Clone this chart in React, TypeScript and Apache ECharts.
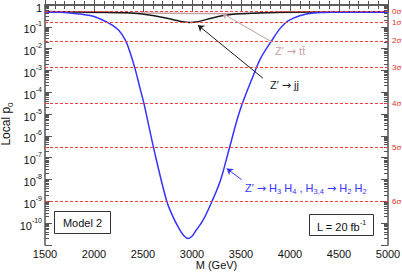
import React, { useEffect, useRef } from "react";
import * as echarts from "echarts";

// ---- data ----
const massBlue = [1500, 1700, 1900, 2000, 2060, 2160, 2250, 2320, 2370, 2420, 2470, 2510, 2610, 2740, 2810, 2880, 2920, 2960, 3000, 3040, 3110, 3200, 3290, 3380, 3490, 3640, 3700, 3810, 3900, 3980, 4100, 4240, 4440, 5000];
const pBlue = [0.48, 0.457, 0.36, 0.3, 0.234, 0.141, 0.0708, 0.0245, 6.3e-3, 1.15e-3, 1.5e-4, 3.0e-5, 2.6e-7, 1.1e-9, 1.8e-10, 4.6e-11, 2.6e-11, 2.0e-11, 2.5e-11, 4.6e-11, 1.3e-10, 9.1e-10, 9.1e-9, 2.6e-7, 1.5e-5, 8.5e-4, 3.6e-3, 0.022, 0.085, 0.186, 0.32, 0.43, 0.47, 0.47];

const massJJ = [1500, 2000, 2400, 2600, 2810, 2900, 2980, 3060, 3150, 3320, 3500, 3900, 5000];
const pJJ = [0.5, 0.468, 0.42, 0.33, 0.213, 0.172, 0.158, 0.172, 0.219, 0.331, 0.398, 0.468, 0.49];

const massTT = [1500, 2500, 3000, 3400, 3700, 4200, 5000];
const pTT = [0.47, 0.43, 0.41, 0.4, 0.43, 0.46, 0.47];

const sigmaNames = ["0σ", "1σ", "2σ", "3σ", "4σ", "5σ", "6σ"];
const sigmaP = [0.5, 0.158655, 0.0227501, 0.0013499, 3.16712e-5, 2.86652e-7, 9.86588e-10];

const xMin = 1500;
const xMax = 5000;
const xStep = 500;
const yMinExp = -11;
const yMaxExp = 0;

// annotation arrows: [fromMass, fromP, toMass, toP]
const arrowJJ = [3724, 4.4e-4, 3061, 0.119];
const arrowTT = [3816, 0.02, 3306, 0.425];
const arrowH = [3507, 9.8e-9, 3354, 3.2e-8];

const FONT = '"Liberation Sans", Arial, Helvetica, sans-serif';
const AFONT = '"DejaVu Sans", sans-serif';
const lg = (v: number) => Math.log10(v);

const minorLogTicks: number[] = [];
for (let n = yMinExp; n < yMaxExp; n++) {
  for (let k = 2; k <= 9; k++) minorLogTicks.push(n + Math.log10(k));
}

const axisColor = "#555";
const sigmaColor = "#ff4040";

export default function App() {
  const ref = useRef<HTMLDivElement>(null);
  useEffect(() => {
    if (!ref.current) return;
    const chart = echarts.init(ref.current, null, { renderer: "svg" });
    const toPairs = (m: number[], p: number[]) => m.map((x, i) => [x, lg(p[i])]);

    const xCommon = {
      type: "value",
      min: xMin,
      max: xMax,
      interval: xStep,
      axisLine: { show: true, lineStyle: { color: axisColor, width: 1.5 } },
      axisTick: { show: true, inside: true, length: 7, lineStyle: { color: axisColor, width: 1 } },
      minorTick: { show: true, splitNumber: 5, length: 4, lineStyle: { color: axisColor, width: 1 } },
      splitLine: { show: false },
      minorSplitLine: { show: false },
    };
    const yCommon = {
      type: "value",
      min: yMinExp,
      max: yMaxExp,
      interval: 1,
      splitLine: { show: false },
    };
    const annRich = (color: string, size = 11) => ({
      m: { fontSize: size, lineHeight: 13, padding: [0, 0, 2, 0], fontFamily: FONT, fill: color },
      a: { fontSize: size, lineHeight: 13, padding: [0, 0, 2, 0], fontFamily: AFONT, fill: color },
      d: { fontSize: 7.5, lineHeight: 8, verticalAlign: "bottom", fontFamily: FONT, fill: color },
    });

    const option: any = {
      animation: false,
      backgroundColor: "#fff",
      grid: { left: 45, right: 14, top: 5, bottom: 28, containLabel: false, outerBoundsMode: "none" },
      xAxis: [
        {
          ...xCommon,
          position: "bottom",
          axisLabel: { fontSize: 11, color: "#111", margin: 3, fontFamily: FONT, formatter: (v: number) => String(v) },
        },
        { ...xCommon, position: "top", axisLabel: { show: false } },
      ],
      yAxis: [
        {
          ...yCommon,
          position: "left",
          axisLine: { show: true, lineStyle: { color: axisColor, width: 1.5 } },
          axisTick: { show: true, inside: true, length: 7, lineStyle: { color: axisColor } },
          axisLabel: {
            margin: 3,
            fontFamily: FONT,
            color: "#111",
            formatter: (v: number) => (v === 0 ? "{b|1}" : v === yMinExp ? "" : `{b|10}{s|${v}}`),
            rich: {
              b: { fontSize: 11, lineHeight: 13, padding: [5, 0, 0, 0], fontFamily: FONT, color: "#111" },
              s: { fontSize: 7, lineHeight: 8, verticalAlign: "top", fontFamily: FONT, color: "#111" },
            },
          },
        },
        {
          ...yCommon,
          position: "left",
          axisLine: { show: false },
          axisTick: { show: true, inside: true, length: 4, customValues: minorLogTicks, lineStyle: { color: axisColor } },
          axisLabel: { show: false },
        },
        {
          ...yCommon,
          position: "right",
          axisLine: { show: true, lineStyle: { color: axisColor, width: 1.5 } },
          axisTick: { show: true, inside: true, length: 7, lineStyle: { color: axisColor } },
          axisLabel: {
            show: true,
            margin: 4,
            customValues: sigmaP.map(lg),
            fontSize: 8,
            color: "#e0302a",
            fontFamily: FONT,
            formatter: (v: number) => {
              let best = 0;
              sigmaP.forEach((p, i) => {
                if (Math.abs(lg(p) - v) < Math.abs(lg(sigmaP[best]) - v)) best = i;
              });
              return sigmaNames[best];
            },
          },
        },
        {
          ...yCommon,
          position: "right",
          axisLine: { show: false },
          axisTick: { show: true, inside: true, length: 4, customValues: minorLogTicks, lineStyle: { color: axisColor } },
          axisLabel: { show: false },
        },
      ],
      series: [
        {
          name: "sigma",
          type: "line",
          data: [],
          z: 1,
          markLine: {
            silent: true,
            symbol: "none",
            label: { show: false },
            lineStyle: { color: sigmaColor, type: [3, 2], width: 1 },
            data: sigmaP.map((p) => ({ yAxis: lg(p), lineStyle: { color: sigmaColor, type: [3, 2], width: 1 } })),
          },
        },
        {
          name: "ttbar",
          type: "line",
          data: toPairs(massTT, pTT),
          showSymbol: false,
          smooth: 0.4,
          z: 2,
          lineStyle: { color: "#c4a2a2", width: 1.5 },
        },
        {
          name: "jj",
          type: "line",
          data: toPairs(massJJ, pJJ),
          showSymbol: false,
          smooth: 0.4,
          z: 3,
          lineStyle: { color: "#1a1a1a", width: 1.5 },
        },
        {
          name: "HH",
          type: "line",
          data: toPairs(massBlue, pBlue),
          showSymbol: false,
          smooth: 0.35,
          z: 4,
          lineStyle: { color: "#3434ff", width: 1.5 },
        },
        {
          name: "arrows",
          type: "line",
          data: [],
          z: 5,
          markLine: {
            silent: true,
            symbol: ["none", "arrow"],
            symbolSize: 6,
            label: { show: false },
            data: [
              [
                { coord: [arrowJJ[0], lg(arrowJJ[1])], lineStyle: { color: "#1a1a1a", width: 1, type: "solid" } },
                { coord: [arrowJJ[2], lg(arrowJJ[3])] },
              ],
              [
                { coord: [arrowTT[0], lg(arrowTT[1])], lineStyle: { color: "#c4a2a2", width: 1, type: "solid" } },
                { coord: [arrowTT[2], lg(arrowTT[3])] },
              ],
              [
                { coord: [arrowH[0], lg(arrowH[1])], lineStyle: { color: "#3434ff", width: 1, type: "solid" } },
                { coord: [arrowH[2], lg(arrowH[3])] },
              ],
            ],
          },
        },
      ],
      graphic: [
        {
          type: "text",
          x: 216.5,
          y: 265,
          style: { text: "M (GeV)", fontSize: 11, fontFamily: FONT, fill: "#111", align: "center", verticalAlign: "middle" },
        },
        {
          type: "text",
          x: 7,
          y: 124,
          rotation: Math.PI / 2,
          style: {
            text: "{m|Local p}{u|0}",
            align: "center",
            verticalAlign: "middle",
            rich: {
              m: { fontSize: 12, lineHeight: 14, padding: [0, 0, 3, 0], fontFamily: FONT, fill: "#111" },
              u: { fontSize: 8, lineHeight: 9, verticalAlign: "bottom", fontFamily: FONT, fill: "#111" },
            },
          },
        },
        {
          type: "text",
          x: 275,
          y: 52,
          style: { text: "{m|Z′ }{a|→}{m| tt̄}", verticalAlign: "middle", rich: annRich("#c4a2a2") },
        },
        {
          type: "text",
          x: 270,
          y: 86,
          style: { text: "{m|Z′ }{a|→}{m| jj}", verticalAlign: "middle", rich: annRich("#1a1a1a") },
        },
        {
          type: "text",
          x: 245,
          y: 189,
          style: {
            text: "{m|Z′ }{a|→}{m| H}{d|3}{m| H}{d|4}{m| , H}{d|3,4}{m| }{a|→}{m| H}{d|2}{m| H}{d|2}",
            verticalAlign: "middle",
            rich: annRich("#3434ff"),
          },
        },
        {
          type: "rect",
          shape: { x: 54.5, y: 211.5, width: 56, height: 22 },
          style: { fill: "#fff", stroke: "#333", lineWidth: 1 },
          z: 10,
        },
        {
          type: "text",
          x: 82.5,
          y: 222.5,
          z: 11,
          style: { text: "Model 2", fontSize: 11, fontFamily: FONT, fill: "#111", align: "center", verticalAlign: "middle" },
        },
        {
          type: "rect",
          shape: { x: 309.5, y: 214.5, width: 64, height: 21 },
          style: { fill: "#fff", stroke: "#333", lineWidth: 1 },
          z: 10,
        },
        {
          type: "text",
          x: 341.5,
          y: 225,
          z: 11,
          style: {
            text: "{m|L = 20 fb}{s|-1}",
            align: "center",
            verticalAlign: "middle",
            rich: {
              m: { fontSize: 11, lineHeight: 13, padding: [4, 0, 0, 0], fontFamily: FONT, fill: "#111" },
              s: { fontSize: 7, lineHeight: 8, verticalAlign: "top", fontFamily: FONT, fill: "#111" },
            },
          },
        },
      ],
    };
    chart.setOption(option);
    return () => chart.dispose();
  }, []);
  return <div ref={ref} style={{ position: "fixed", left: 0, top: 0, width: 402, height: 273 }} />;
}
